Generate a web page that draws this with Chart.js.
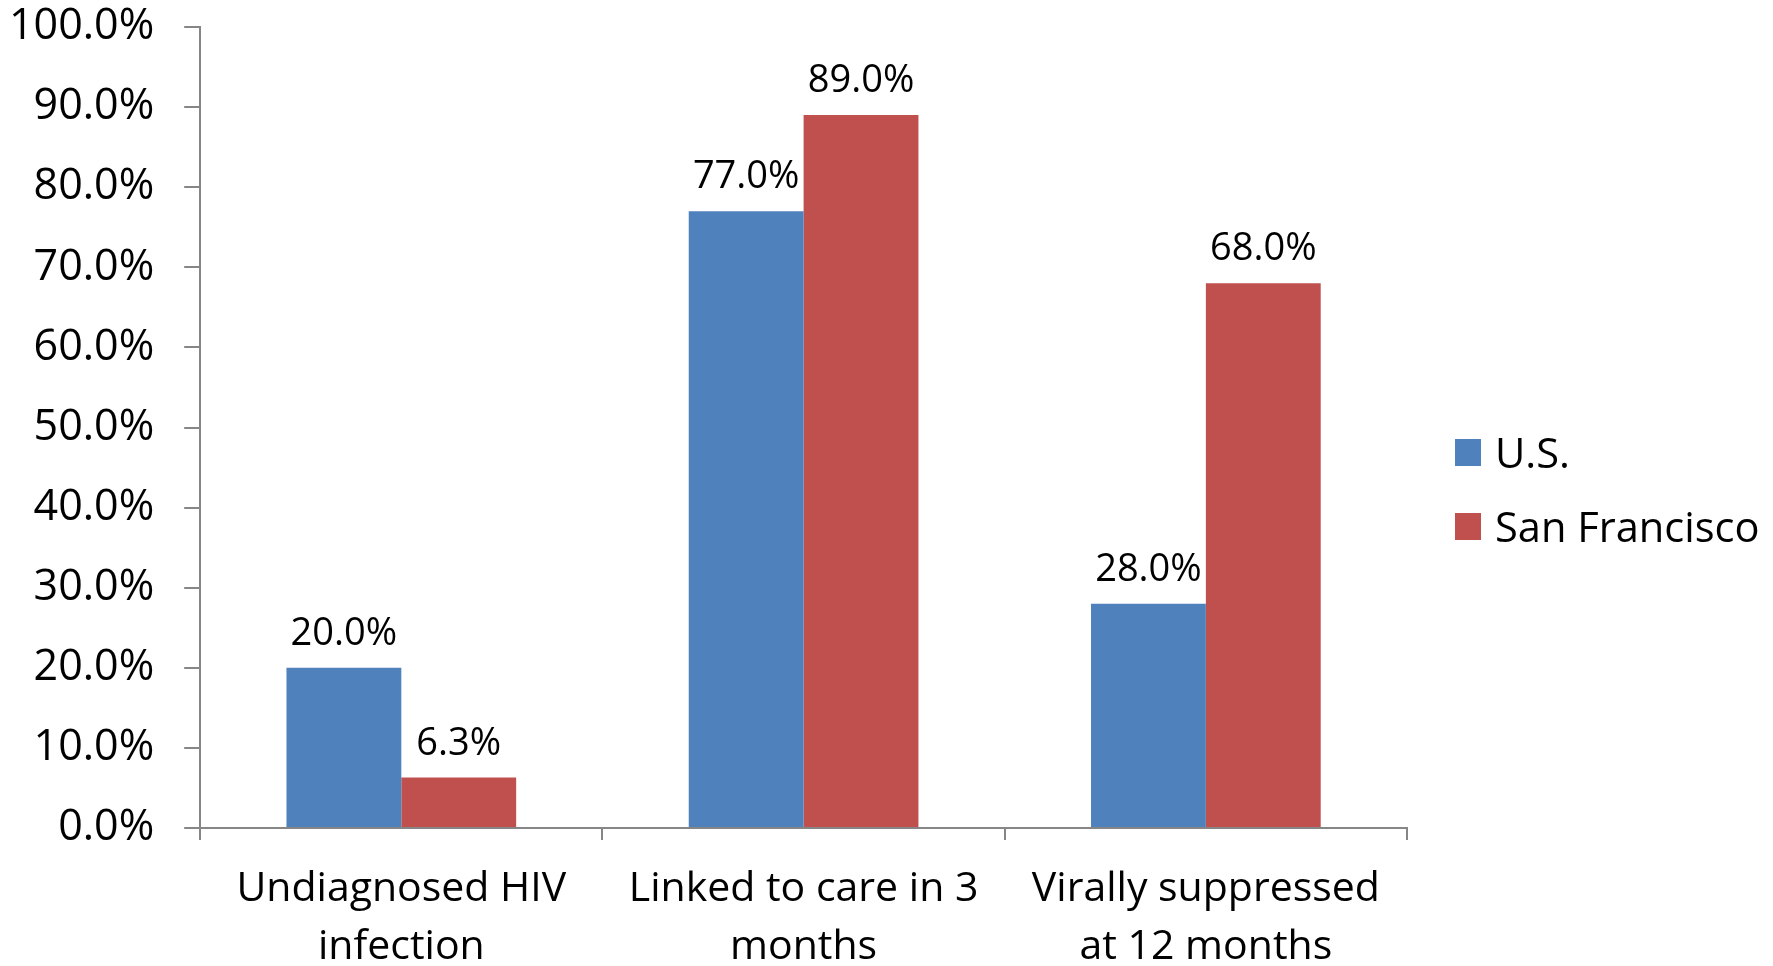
<!DOCTYPE html>
<html>
<head>
<meta charset="utf-8">
<script src="https://cdn.jsdelivr.net/npm/chart.js@4"></script>
<style>
  html, body { margin: 0; padding: 0; background: #fff; }
  #wrap { position: relative; width: 1773px; height: 966px; overflow: hidden; }
  #legend { position: absolute; left: 1455px; top: 0; font-family: 'Open Sans', 'Noto Sans', sans-serif; font-size: 41.6px; color: #000; }
  #legend .item { position: absolute; left: 0; display: flex; align-items: center; white-space: nowrap; height: 60px; }
  #legend .sw { width: 26px; height: 27px; margin-right: 14px; flex: none; }
</style>
</head>
<body>
<div id="wrap"><canvas id="c"></canvas><div id="legend"></div></div>
<script>
const categories = [["Undiagnosed HIV", "infection"], ["Linked to care in 3", "months"], ["Virally suppressed", "at 12 months"]];
const seriesNames = ["U.S.", "San Francisco"];
const usValues = [20.0, 77.0, 28.0];
const sfValues = [6.3, 89.0, 68.0];
const yTickMin = 0;
const yTickMax = 100;
const yTickStep = 10;

const FONT = "'Open Sans', 'Noto Sans', sans-serif";
const AXIS_COLOR = '#868686';
const COLORS = ['#4F81BD', '#C0504D'];

const dataLabelPlugin = {
  id: 'dataLabels',
  afterDatasetsDraw(chart) {
    const ctx = chart.ctx;
    ctx.save();
    ctx.font = '38px ' + FONT;
    ctx.fillStyle = '#000';
    ctx.textAlign = 'center';
    ctx.textBaseline = 'alphabetic';
    chart.data.datasets.forEach((ds, i) => {
      const meta = chart.getDatasetMeta(i);
      meta.data.forEach((el, j) => {
        ctx.fillText(ds.data[j].toFixed(1) + '%', el.x, el.y - 23);
      });
    });
    ctx.restore();
  }
};

const chart = new Chart(document.getElementById('c'), {
  type: 'bar',
  data: {
    labels: categories,
    datasets: [
      { label: seriesNames[0], data: usValues, backgroundColor: COLORS[0], borderWidth: 0 },
      { label: seriesNames[1], data: sfValues, backgroundColor: COLORS[1], borderWidth: 0 }
    ]
  },
  options: {
    responsive: true,
    maintainAspectRatio: false,
    animation: false,
    devicePixelRatio: 1,
    layout: { padding: { top: 0, left: -21, right: 366, bottom: 0 } },
    datasets: { bar: { categoryPercentage: 0.571, barPercentage: 1.0 } },
    plugins: {
      legend: { display: false },
      tooltip: { enabled: false }
    },
    scales: {
      x: {
        grid: { drawOnChartArea: false, offset: true, tickLength: 12, color: AXIS_COLOR, lineWidth: 2 },
        border: { color: AXIS_COLOR, width: 2 },
        ticks: {
          font: { family: FONT, size: 41, lineHeight: 1.4 },
          color: '#000',
          padding: 21,
          maxRotation: 0,
          autoSkip: false
        },
        afterFit: s => { s.height = 138; }
      },
      y: {
        min: yTickMin,
        max: yTickMax,
        grid: { drawOnChartArea: false, tickLength: 16, color: AXIS_COLOR, lineWidth: 2 },
        border: { color: AXIS_COLOR, width: 2 },
        ticks: {
          stepSize: yTickStep,
          font: { family: FONT, size: 43 },
          color: '#000',
          padding: 30,
          callback: v => v.toFixed(1) + '%'
        },
        afterFit: s => { s.paddingTop = 27; s.paddingBottom = 20; }
      }
    }
  },
  plugins: [dataLabelPlugin]
});

// HTML legend built from the series names and colours
const legendEl = document.getElementById('legend');
const legendRowCenters = [452, 526];
seriesNames.forEach((name, i) => {
  const item = document.createElement('div');
  item.className = 'item';
  item.style.top = (legendRowCenters[i] - 30) + 'px';
  const sw = document.createElement('span');
  sw.className = 'sw';
  sw.style.background = COLORS[i];
  const tx = document.createElement('span');
  tx.textContent = name;
  item.appendChild(sw);
  item.appendChild(tx);
  legendEl.appendChild(item);
});
</script>
</body>
</html>
